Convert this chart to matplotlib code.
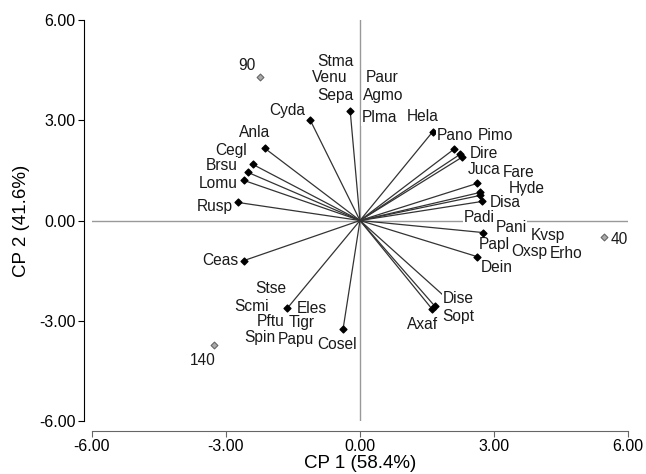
import matplotlib
matplotlib.use('Agg')
import matplotlib.pyplot as plt

# variable vectors (loadings) - endpoints
vec_names = ['Sepa', 'Cyda', 'Anla', 'Cegl', 'Brsu', 'Lomu', 'Rusp', 'Ceas',
             'Eles', 'Cosel', 'Dise', 'Sopt', 'Axaf', 'Hela', 'Pano', 'Dire',
             'Pimo', 'Juca', 'Fare', 'Hyde', 'Disa', 'Pani', 'Dein']
vec_x = [-0.22, -1.12, -2.13, -2.40, -2.51, -2.60, -2.73, -2.60,
         -1.63, -0.38, 1.95, 1.68, 1.62, 1.63, 2.10, 2.24,
         2.28, 2.62, 2.69, 2.69, 2.73, 2.75, 2.62]
vec_y = [3.29, 3.02, 2.16, 1.68, 1.44, 1.20, 0.54, -1.20,
         -2.63, -3.26, -2.34, -2.57, -2.66, 2.66, 2.13, 1.98,
         1.89, 1.11, 0.84, 0.75, 0.57, -0.36, -1.08]

# species labels and their positions
lab_names = ['Stma', 'Venu', 'Sepa', 'Paur', 'Agmo', 'Plma', 'Cyda', 'Anla',
             'Cegl', 'Brsu', 'Lomu', 'Rusp', 'Ceas', 'Stse', 'Scmi', 'Eles',
             'Pftu', 'Tigr', 'Spin', 'Papu', 'Cosel', 'Dise', 'Sopt', 'Axaf',
             'Hela', 'Pano', 'Pimo', 'Dire', 'Juca', 'Fare', 'Hyde', 'Disa',
             'Padi', 'Pani', 'Kvsp', 'Papl', 'Oxsp', 'Erho', 'Dein']
lab_x = [-0.56, -0.67, -0.54, 0.49, 0.51, 0.43, -1.63, -2.37,
         -2.89, -3.09, -3.18, -3.25, -3.13, -1.99, -2.42, -1.07,
         -2.01, -1.30, -2.24, -1.44, -0.51, 2.19, 2.19, 1.39,
         1.41, 2.13, 3.04, 2.78, 2.78, 3.56, 3.74, 3.25,
         2.66, 3.38, 4.21, 3.00, 3.78, 4.62, 3.07]
lab_y = [4.76, 4.28, 3.74, 4.28, 3.74, 3.08, 3.29, 2.63,
         2.10, 1.65, 1.11, 0.42, -1.20, -2.04, -2.57, -2.63,
         -3.02, -3.05, -3.50, -3.56, -3.71, -2.34, -2.87, -3.11,
         3.11, 2.54, 2.54, 2.01, 1.53, 1.44, 0.96, 0.54,
         0.09, -0.21, -0.45, -0.72, -0.93, -0.99, -1.41]

# sample scores
pt_names = ['90', '40', '140']
pt_x = [-2.24, 5.46, -3.27]
pt_y = [4.28, -0.48, -3.74]

plt.rcParams['font.family'] = ['Liberation Sans', 'DejaVu Sans']

fig = plt.figure(figsize=(6.46, 4.74), dpi=100)
ax = fig.add_axes([0.1424, 0.1118, 0.8297, 0.8460])

ax.axhline(0, color='#999999', lw=1, zorder=1)
ax.axvline(0, color='#999999', lw=1, zorder=1)

for i in range(len(vec_names)):
    ax.plot([0, vec_x[i]], [0, vec_y[i]], color='#333333', lw=0.9, zorder=2)
ax.scatter(vec_x, vec_y, marker='D', s=12, color='black', zorder=3)

ax.scatter(pt_x, pt_y, marker='D', s=12, facecolor='#aaaaaa',
           edgecolor='#666666', lw=0.8, zorder=3)
fs = 11.2
ax.text(pt_x[0] - 0.3, pt_y[0] + 0.36, pt_names[0], ha='center', va='center',
        fontsize=fs, color='#1a1a1a')
ax.text(pt_x[1] + 0.15, pt_y[1] - 0.1, pt_names[1], ha='left', va='center',
        fontsize=fs, color='#1a1a1a')
ax.text(pt_x[2] - 0.24, pt_y[2] - 0.45, pt_names[2], ha='center', va='center',
        fontsize=fs, color='#1a1a1a')

for i in range(len(lab_names)):
    ax.text(lab_x[i], lab_y[i], lab_names[i], ha='center', va='center',
            fontsize=fs, color='#1a1a1a', zorder=4,
            bbox=dict(facecolor='white', edgecolor='none', pad=0.3))

ax.set_xlim(-6, 6)
ax.set_ylim(-6, 6)
ticks = [-6, -3, 0, 3, 6]
ax.set_xticks(ticks)
ax.set_yticks(ticks)
ax.set_xticklabels(['%.2f' % t for t in ticks])
ax.set_yticklabels(['%.2f' % t for t in ticks])

for s in ['top', 'right']:
    ax.spines[s].set_visible(False)
ax.spines['left'].set_position(('outward', 6))
ax.spines['bottom'].set_position(('outward', 7))
ax.spines['left'].set_color('black')
ax.spines['bottom'].set_color('#666666')
ax.tick_params(axis='y', direction='out', length=4, labelsize=11.5, colors='black', pad=2)
ax.tick_params(axis='x', direction='out', length=4, labelsize=11.5, pad=2, color='#666666')

ax.set_xlabel('CP 1 (58.4%)', fontsize=13.5, labelpad=1)
ax.set_ylabel('CP 2 (41.6%)', fontsize=13.5, labelpad=6)

fig.savefig('out.png', dpi=100)
